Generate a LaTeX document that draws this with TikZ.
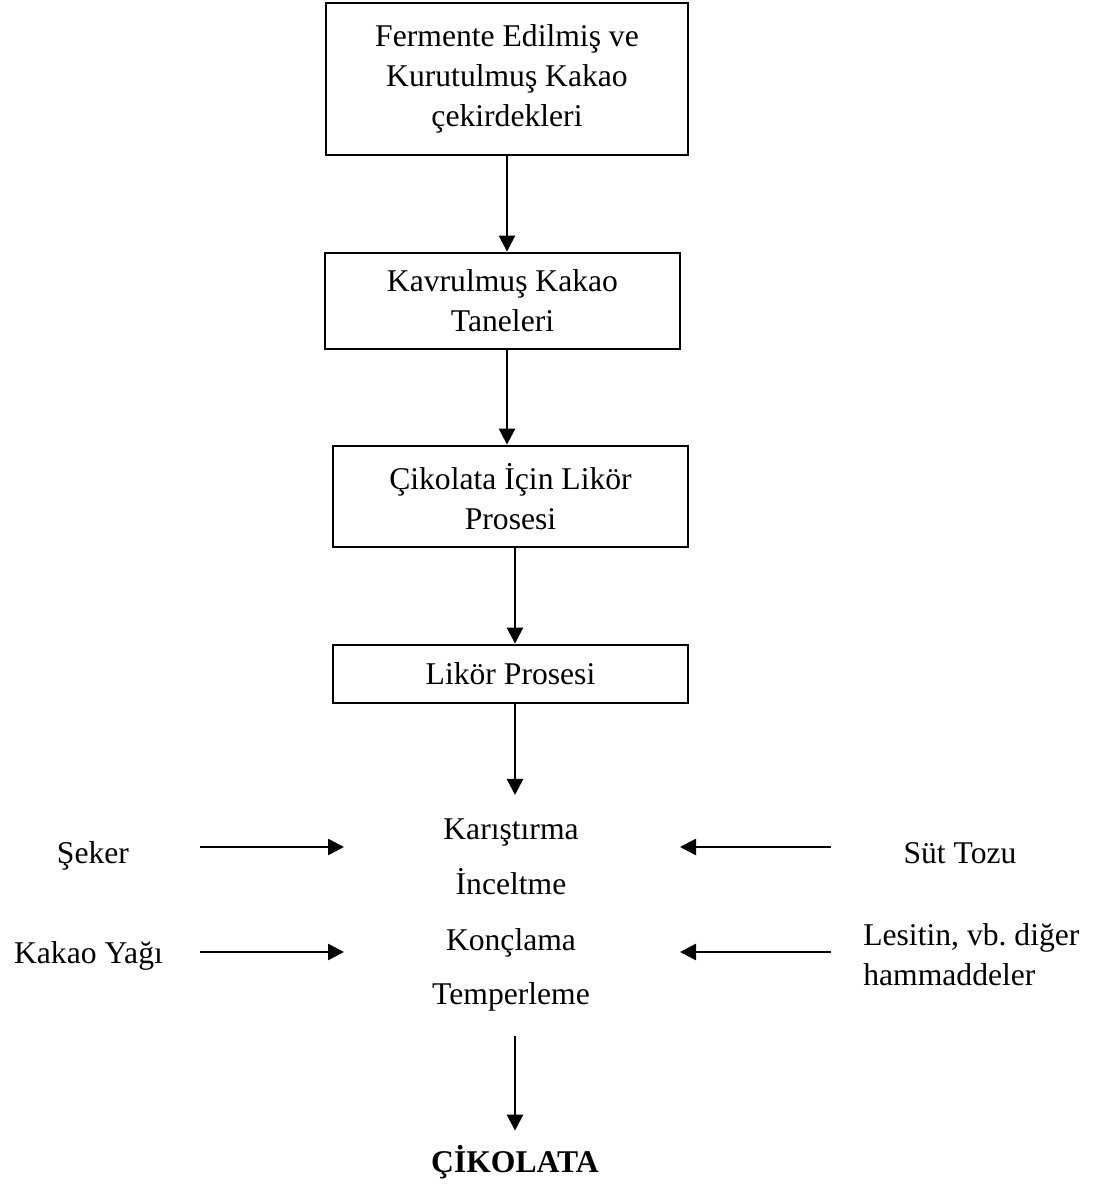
\documentclass[tikz,border=0pt]{standalone}
\usepackage{fontspec}
\setmainfont{Liberation Serif}
\usetikzlibrary{arrows.meta,positioning,calc}

\begin{document}
\begin{tikzpicture}[>={Triangle[length=0.16cm,width=0.16cm]},line width=0.026cm,
  every node/.style={font=\fontsize{9}{11.4}\selectfont},
  box/.style={draw,line width=0.028cm,align=center,inner sep=0pt},
  lbl/.style={anchor=base,inner sep=0pt}]
  \useasboundingbox (0,0) rectangle (10.93,-11.93);
  % Process boxes, top to bottom
  \node[box,minimum width=3.62cm,minimum height=1.52cm] (ferm) at (5.07,-0.79)
    {Fermente Edilmiş ve\\Kurutulmuş Kakao\\çekirdekleri};
  \node[box,minimum width=3.55cm,minimum height=0.96cm] (kavr) at (5.025,-3.01)
    {Kavrulmuş Kakao\\Taneleri};
  \node[box,minimum width=3.55cm,minimum height=1.01cm] (cikl) at (5.105,-4.965)
    {Çikolata İçin Likör\\Prosesi};
  \node[box,minimum width=3.55cm,minimum height=0.58cm] (likr) at (5.105,-6.74)
    {Likör Prosesi};
  % Mixing steps
  \foreach \n/\y/\t in {kar/-8.39/Karıştırma, inc/-8.94/İnceltme,
                        konc/-9.50/Konçlama, temp/-10.04/Temperleme}{
    \node[lbl] (\n) at (5.11,\y) {\t};
  }
  \node[lbl,font=\fontsize{9}{11.4}\selectfont\bfseries] (son) at (5.15,-11.72) {ÇİKOLATA};
  % Added ingredients
  \node[lbl] (seker) at (0.93,-8.63) {Şeker};
  \node[lbl] (yag) at (0.885,-9.63) {Kakao Yağı};
  \node[lbl] (sut) at (9.60,-8.63) {Süt Tozu};
  \node[anchor=west,inner sep=0pt,align=left] (les) at (8.62,-9.55)
    {Lesitin, vb.\ diğer\\hammaddeler};
  % Main flow arrows
  \coordinate (ax) at (5.15,0);
  \draw[->] (ferm.south) -- (ferm.south |- kavr.north);
  \draw[->] (kavr.south -| ferm.south) -- (ferm.south |- cikl.north);
  \draw[->] (cikl.south -| ax) -- (likr.north -| ax);
  \draw[->,shorten >=0.22cm] (likr.south -| ax) -- (kar.north -| ax);
  \draw[->,shorten <=0.24cm,shorten >=0.13cm] (temp.south -| ax) -- (son.north -| ax);
  % Side arrows into the mixing steps
  \foreach \c/\y in {sekr/-8.47, yagr/-9.52}{
    \coordinate (\c) at (2.00,\y);
    \draw[->] (\c) -- ++(1.44,0);
  }
  \foreach \c/\y in {sutr/-8.47, lesr/-9.52}{
    \coordinate (\c) at (8.31,\y);
    \draw[->] (\c) -- ++(-1.51,0);
  }
\end{tikzpicture}
\end{document}
